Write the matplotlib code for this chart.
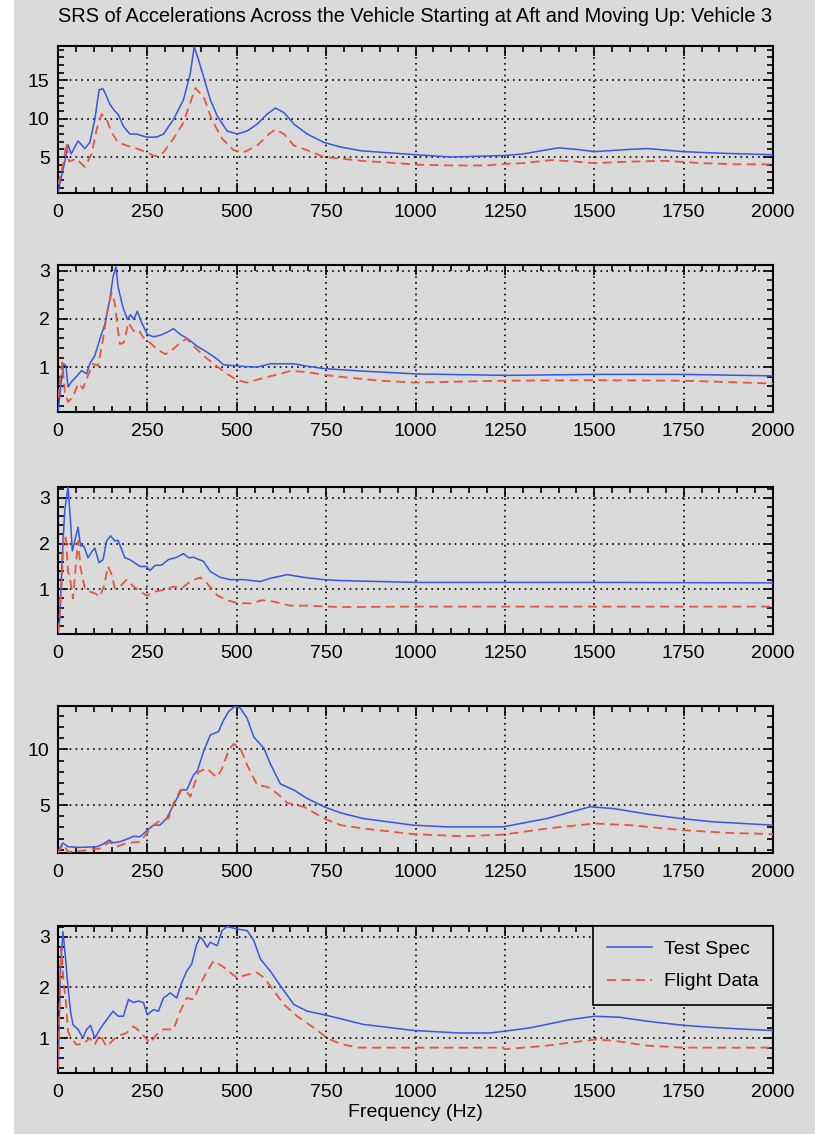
import matplotlib
matplotlib.use("Agg")
import matplotlib.pyplot as plt
from matplotlib.ticker import MultipleLocator
from matplotlib.patches import Rectangle

# ---- data (frequency in Hz, SRS in g) ----
spec1_f = [0, 19, 28, 37, 56, 75, 89, 103, 115, 126, 136, 145, 159, 168, 183, 201, 220, 248, 276, 295,
           323, 351, 370, 381, 393, 407, 426, 445, 473, 501, 529, 557, 585, 608, 632, 660, 697, 744, 791, 850,
           1000, 1100, 1250, 1300, 1400, 1450, 1500, 1600, 1650, 1750, 1850, 2000]
spec1_g = [0.4, 4.4, 6.6, 5.4, 7.1, 6.1, 6.9, 9.9, 13.8, 13.9, 12.9, 11.9, 11.0, 10.6, 9.0, 8.0, 8.0, 7.6, 7.6, 8.0,
           9.9, 12.5, 15.9, 19.4, 17.7, 15.5, 12.5, 10.4, 8.4, 8.0, 8.4, 9.3, 10.6, 11.4, 10.8, 9.3, 8.0, 6.9, 6.3, 5.8,
           5.3, 5.0, 5.2, 5.4, 6.2, 6.0, 5.7, 6.0, 6.1, 5.7, 5.5, 5.3]
flight1_f = [0, 16, 23, 31, 51, 75, 94, 108, 122, 136, 150, 168, 192, 220, 248, 271, 295, 323, 351, 384,
             407, 430, 459, 491, 519, 557, 590, 608, 632, 660, 697, 744, 791, 850, 950, 1000, 1100, 1200, 1250, 1300,
             1380, 1450, 1500, 1600, 1700, 1800, 1900, 2000]
flight1_g = [1.4, 4.4, 6.8, 4.4, 4.8, 3.7, 5.4, 8.6, 10.6, 9.9, 8.2, 6.9, 6.5, 6.1, 5.6, 5.1, 5.6, 7.4, 9.5, 14.0,
             12.9, 9.9, 7.4, 5.9, 5.6, 6.5, 8.0, 8.6, 8.0, 6.5, 5.9, 5.0, 4.8, 4.5, 4.2, 4.0, 3.9, 3.9, 4.1, 4.2,
             4.6, 4.4, 4.2, 4.4, 4.5, 4.2, 4.05, 4.05]

spec2_f = [0, 9, 16, 22, 28, 37, 51, 66, 80, 89, 103, 117, 131, 145, 154, 162, 168, 181, 194, 203,
           212, 222, 234, 250, 267, 285, 304, 323, 342, 365, 388, 417, 445, 463, 510, 557, 594, 660, 697, 744,
           850, 1000, 1250, 1500, 1750, 2000]
spec2_g = [0.08, 0.69, 1.07, 1.03, 0.59, 0.69, 0.80, 0.93, 0.86, 1.07, 1.24, 1.58, 1.89, 2.40, 2.88, 3.08, 2.67, 2.26, 1.99, 2.09,
           1.99, 2.16, 1.92, 1.68, 1.63, 1.66, 1.72, 1.80, 1.68, 1.58, 1.44, 1.31, 1.17, 1.05, 1.02, 1.0, 1.07, 1.07, 1.02, 0.97,
           0.92, 0.86, 0.83, 0.85, 0.85, 0.82]
flight2_f = [0, 7, 12, 19, 28, 42, 56, 70, 84, 98, 112, 126, 140, 150, 159, 166, 173, 184, 197, 203,
             212, 225, 239, 257, 276, 300, 323, 342, 360, 379, 407, 435, 473, 501, 529, 566, 604, 650, 697, 744,
             791, 900, 1000, 1250, 1500, 1750, 2000]
flight2_g = [0.35, 0.83, 1.1, 0.49, 0.28, 0.39, 0.66, 0.56, 0.83, 1.07, 1.03, 1.58, 2.26, 2.54, 2.33, 1.85, 1.48, 1.51, 1.92, 1.85,
             1.75, 1.78, 1.61, 1.51, 1.38, 1.27, 1.38, 1.51, 1.59, 1.44, 1.24, 1.07, 0.86, 0.73, 0.68, 0.76, 0.83, 0.92, 0.90, 0.84,
             0.80, 0.72, 0.68, 0.72, 0.73, 0.72, 0.66]

spec3_f = [0, 5, 12, 19, 28, 35, 40, 47, 56, 63, 72, 84, 96, 103, 115, 126, 136, 147, 159, 168,
           187, 201, 229, 248, 257, 271, 290, 309, 332, 351, 365, 379, 407, 426, 454, 482, 519, 566, 594, 641,
           688, 744, 791, 1000, 1500, 2000]
spec3_g = [0.02, 0.36, 1.76, 2.73, 3.24, 2.5, 1.84, 2.06, 2.36, 1.95, 1.95, 1.69, 1.84, 1.90, 1.58, 1.65, 2.06, 2.17, 2.06, 2.07,
           1.69, 1.65, 1.50, 1.50, 1.41, 1.52, 1.53, 1.65, 1.70, 1.78, 1.69, 1.70, 1.61, 1.39, 1.26, 1.21, 1.21, 1.17, 1.24, 1.32,
           1.26, 1.21, 1.19, 1.15, 1.15, 1.14]
flight3_f = [0, 7, 12, 16, 22, 28, 35, 42, 50, 56, 63, 75, 89, 103, 117, 128, 140, 150, 159, 173,
             192, 211, 229, 248, 271, 300, 323, 346, 370, 398, 417, 445, 473, 501, 538, 571, 604, 650, 697, 791,
             1000, 1500, 2000]
flight3_g = [0.06, 0.65, 1.39, 2.2, 2.13, 1.39, 1.17, 0.8, 1.54, 2.06, 1.47, 1.02, 0.95, 0.91, 0.84, 1.06, 1.50, 1.32, 1.02, 1.06,
             1.21, 1.06, 0.96, 0.86, 0.95, 0.99, 1.06, 1.02, 1.17, 1.26, 1.13, 0.87, 0.76, 0.70, 0.69, 0.76, 0.73, 0.64, 0.64, 0.61,
             0.62, 0.62, 0.62]

spec4_f = [0, 7, 14, 28, 61, 108, 126, 143, 154, 173, 197, 211, 229, 250, 267, 285, 304, 323, 346, 360,
           379, 390, 407, 426, 449, 461, 477, 496, 510, 529, 548, 576, 594, 622, 660, 697, 744, 791, 853, 993,
           1088, 1245, 1368, 1488, 1552, 1647, 1740, 1832, 2000]
spec4_g = [0.8, 1.26, 1.6, 1.26, 1.2, 1.26, 1.5, 1.86, 1.62, 1.71, 2.0, 2.2, 2.15, 2.75, 3.2, 3.2, 3.8, 5.0, 6.4, 6.35,
           7.7, 8.1, 9.8, 11.3, 11.6, 12.5, 13.4, 13.9, 13.7, 12.8, 11.1, 10.1, 8.7, 6.9, 6.35, 5.6, 4.85, 4.3, 3.8, 3.2,
           3.05, 3.05, 3.8, 4.85, 4.7, 4.2, 3.8, 3.5, 3.2]
flight4_f = [0, 14, 28, 70, 117, 145, 164, 192, 229, 267, 285, 309, 323, 342, 356, 370, 393, 417, 431, 445,
             459, 477, 491, 510, 529, 557, 585, 613, 641, 688, 744, 791, 853, 993, 1133, 1245, 1368, 1500, 1600, 1748,
             1880, 2000]
flight4_g = [0.7, 1.5, 0.8, 0.9, 1.1, 1.7, 1.26, 1.6, 1.7, 3.2, 3.6, 3.8, 5.15, 6.35, 6.4, 5.75, 8.0, 8.3, 7.85, 7.5,
             8.3, 9.9, 10.5, 10.1, 8.6, 6.8, 6.65, 6.05, 5.2, 4.85, 3.8, 3.2, 2.9, 2.4, 2.2, 2.35, 2.9, 3.35, 3.2, 2.75,
             2.5, 2.4]

spec5_f = [0, 7, 14, 22, 28, 35, 42, 56, 70, 80, 91, 103, 117, 136, 154, 168, 183, 197, 211, 225,
           239, 250, 267, 281, 295, 314, 332, 346, 360, 374, 388, 398, 407, 417, 426, 445, 459, 473, 501, 529,
           548, 566, 594, 622, 660, 697, 744, 791, 853, 993, 1120, 1210, 1320, 1430, 1500, 1570, 1650, 1750, 1830, 1930,
           2000]
spec5_g = [0.4, 2.4, 3.1, 2.5, 2.0, 1.53, 1.26, 1.17, 1.0, 1.17, 1.25, 1.0, 1.17, 1.36, 1.53, 1.43, 1.43, 1.76, 1.7, 1.73,
           1.7, 1.46, 1.56, 1.53, 1.79, 1.89, 1.79, 2.09, 2.32, 2.46, 2.85, 2.99, 2.92, 2.79, 2.89, 2.82, 3.12, 3.2, 3.15, 3.12,
           2.92, 2.56, 2.32, 2.03, 1.66, 1.53, 1.46, 1.38, 1.27, 1.15, 1.1, 1.1, 1.2, 1.36, 1.43, 1.41, 1.33, 1.25, 1.21, 1.17,
           1.15]
flight5_f = [0, 5, 9, 16, 22, 28, 37, 51, 70, 89, 103, 117, 136, 164, 192, 211, 229, 257, 276, 295,
             323, 342, 360, 379, 398, 417, 435, 459, 482, 501, 529, 557, 576, 604, 632, 669, 716, 753, 791, 843,
             1000, 1245, 1250, 1368, 1500, 1552, 1647, 1750, 2000]
flight5_g = [0.4, 1.86, 2.79, 2.06, 1.73, 1.13, 1.0, 0.87, 0.88, 1.0, 0.87, 1.07, 0.83, 1.03, 1.1, 1.23, 1.13, 0.9, 1.07, 1.17,
             1.17, 1.53, 1.79, 1.76, 2.06, 2.32, 2.52, 2.42, 2.29, 2.19, 2.25, 2.29, 2.19, 1.93, 1.66, 1.43, 1.2, 1.0, 0.88, 0.81,
             0.81, 0.81, 0.78, 0.85, 0.97, 0.95, 0.85, 0.81, 0.81]

panels = [
    (spec1_f, spec1_g, flight1_f, flight1_g, (0.3, 19.5), 5, 1),
    (spec2_f, spec2_g, flight2_f, flight2_g, (0.07, 3.12), 1, 0.2),
    (spec3_f, spec3_g, flight3_f, flight3_g, (0.02, 3.24), 1, 0.2),
    (spec4_f, spec4_g, flight4_f, flight4_g, (0.7, 13.9), 5, 1),
    (spec5_f, spec5_g, flight5_f, flight5_g, (0.31, 3.21), 1, 0.2),
]

BG = "#dadada"
BLUE = "#3557e3"
RED = "#e8553f"
FS = 14

plt.rcParams['font.family'] = ['Liberation Sans', 'DejaVu Sans']

W, H = 815, 1134
fig = plt.figure(figsize=(W / 100, H / 100), dpi=100, facecolor=BG)
# white strip on the left edge
fig.patches.append(Rectangle((0, 0), 14 / W, 1, transform=fig.transFigure,
                             facecolor="white", edgecolor="none", zorder=0))

tops = [46, 265, 487, 706, 926]
ax_h = 147
left, width = 58, 715

for i, (sf, sg, ff, fg, ylim, major, minor) in enumerate(panels):
    ax = fig.add_axes([left / W, 1 - (tops[i] + ax_h) / H, width / W, ax_h / H])
    ax.set_facecolor(BG)
    ax.plot(sf, sg, color=BLUE, lw=1.1, label="Test Spec", zorder=3)
    ax.plot(ff, fg, color=RED, lw=1.3, linestyle=(0, (5, 3)), label="Flight Data", zorder=3)
    ax.set_xlim(0, 2000)
    ax.set_ylim(*ylim)
    ax.xaxis.set_major_locator(MultipleLocator(250))
    ax.xaxis.set_minor_locator(MultipleLocator(50))
    ax.yaxis.set_major_locator(MultipleLocator(major))
    ax.yaxis.set_minor_locator(MultipleLocator(minor))
    ax.tick_params(which="both", direction="in", top=True, right=True, width=1.2,
                   labelsize=FS, color="black")
    ax.tick_params(which="major", length=7, pad=6)
    ax.tick_params(axis="x", which="major", pad=8)
    ax.tick_params(which="minor", length=4)
    ax.grid(which="major", color="black", linestyle=(0, (1, 2.5)), linewidth=1.2)
    for s in ax.spines.values():
        s.set_linewidth(1.5)
    if i == 4:
        ax.set_xlabel("Frequency (Hz)", fontsize=FS, labelpad=2)
        leg = ax.legend(loc="upper right", bbox_to_anchor=(1, 1), borderaxespad=0,
                        fancybox=False, edgecolor="black", facecolor=BG, framealpha=1,
                        fontsize=FS, handlelength=2.3, borderpad=0.75, labelspacing=0.75,
                        handletextpad=0.6)
        leg.get_frame().set_linewidth(1.2)
        leg.set_zorder(5)

fig.text((left + width / 2) / W, 1 - 17 / H,
         "SRS of Accelerations Across the Vehicle Starting at Aft and Moving Up: Vehicle 3",
         ha="center", va="center", fontsize=14.4)

fig.savefig("out.png", dpi=100, facecolor=BG)
